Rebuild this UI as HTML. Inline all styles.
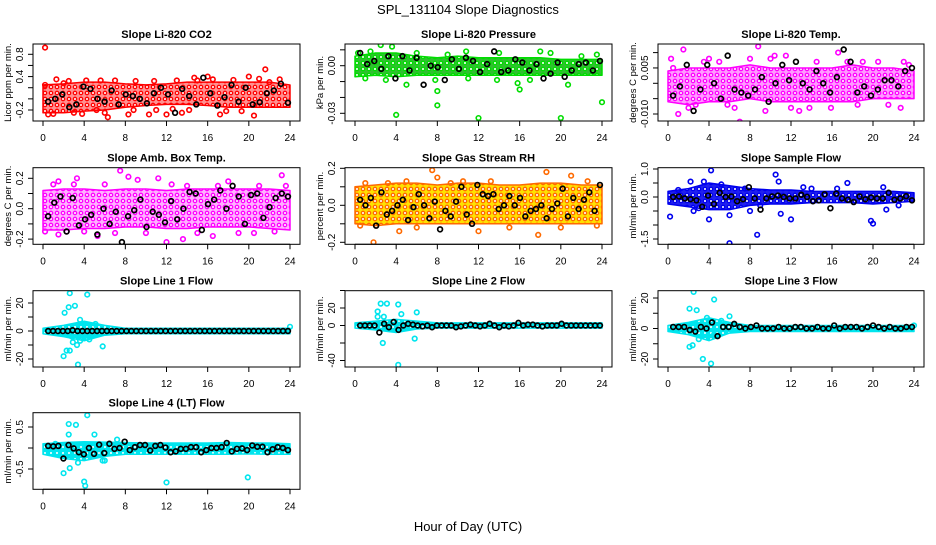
<!DOCTYPE html>
<html><head><meta charset="utf-8"><style>
body{margin:0;background:#fff}
svg text{font-family:"Liberation Sans",sans-serif}
</style></head><body>
<svg id="chart" width="936" height="540" viewBox="0 0 936 540" xmlns="http://www.w3.org/2000/svg">
<text x="468" y="14" text-anchor="middle" font-size="13">SPL_131104  Slope Diagnostics</text>
<text x="468" y="531" text-anchor="middle" font-size="13">Hour of Day (UTC)</text>
</svg>
<script>
const bandHours=[0,2,4,6,8,10,12,14,16,18,20,22,24];
const xTicks=[0,4,8,12,16,20,24];
// Panel 1 CO2
const co2Lo=[-0.25,-0.25,-0.22,-0.2,-0.15,-0.12,-0.1,-0.1,-0.12,-0.15,-0.15,-0.15,-0.15];
const co2Hi=[0.25,0.27,0.3,0.3,0.27,0.25,0.27,0.3,0.3,0.3,0.3,0.3,0.25];
const co2OutH=[0.2,0.2,1.3,6.3,8.3,10.3,12,13.5,16,16.5,20,21.6,17.2,20.5,3,5.2,14.7,22,1,2.5,4.2,7,9,11,13,15,18.5,19.3,23,6,0.5,2,3.8,5.6,8.8,10.8,12.6,14.2,17.8,21];
const co2OutV=[0.92,0.25,0.35,-0.33,-0.28,-0.28,-0.28,-0.25,0.4,0.35,0.4,0.53,-0.28,-0.3,-0.25,-0.2,0.38,0.3,-0.27,0.32,0.33,0.33,0.32,-0.2,0.33,0.33,0.34,-0.22,0.35,-0.25,-0.28,0.28,-0.27,0.33,-0.2,0.32,-0.18,-0.2,-0.22,0.36];
const co2Black=[-0.05,0.0,0.08,-0.15,-0.1,0.22,0.18,0.0,-0.05,0.15,-0.1,0.08,0.05,0.0,-0.08,0.1,0.2,0.08,-0.25,0.18,0.05,-0.1,0.38,0.1,-0.12,0.03,0.25,-0.05,0.2,-0.1,-0.06,0.1,0.15,0.27,-0.07];
// Panel 2 Pressure
const prLo=[-0.007,-0.006,-0.007,-0.006,-0.006,-0.006,-0.006,-0.006,-0.006,-0.006,-0.006,-0.006,-0.006];
const prHi=[0.006,0.008,0.008,0.006,0.005,0.006,0.005,0.005,0.005,0.005,0.004,0.004,0.004];
const prOutH=[4,8,8,12,16,20,20.7,24,5,13.8,2.5,3.6,15.8,0.3,1.5,7.8,10.8,18,1,3,6,9,11,14,17,19,22,23.5];
const prOutV=[-0.031,-0.016,-0.025,-0.033,-0.015,-0.033,-0.012,-0.023,-0.012,-0.009,0.013,0.012,-0.011,0.008,0.009,-0.009,0.009,0.009,-0.008,-0.009,0.008,0.007,-0.008,0.008,-0.009,0.008,0.006,0.007];
const prBlack=[0.008,0.001,0.003,-0.002,0.006,-0.008,0.006,-0.003,0.005,-0.012,0.0,-0.001,-0.009,0.004,-0.002,0.005,0.003,-0.004,0.001,0.009,-0.004,-0.003,0.004,0.002,-0.003,0.001,-0.008,-0.005,0.002,-0.007,-0.003,0.001,0.002,-0.003,0.003];
// Panel 3 Li-820 Temp
const tLo=[-0.006,-0.007,-0.006,-0.006,-0.005,-0.006,-0.006,-0.006,-0.006,-0.006,-0.005,-0.005,-0.005];
const tHi=[0.004,0.005,0.005,0.005,0.006,0.005,0.005,0.005,0.005,0.006,0.005,0.005,0.004];
const tOutH=[0.3,1.5,1,4,7,8.8,9.5,12.8,13.8,15.9,16.6,22.7,2.7,5.8,10.4,11.5,19,23,0.5,2,3.5,5,6.5,8,10,12,14.5,17.5,18.5,20.5,21.5,23.5];
const tOutV=[0.008,0.011,-0.010,0.008,-0.0125,0.012,-0.009,-0.009,-0.008,-0.008,0.010,-0.008,-0.007,-0.007,0.009,0.009,0.007,0.007,0.005,-0.008,0.007,0.007,-0.008,0.008,0.008,-0.008,0.007,0.007,-0.007,0.007,-0.007,0.006];
const tBlack=[-0.004,-0.001,0.006,-0.009,-0.002,0.006,0.0,-0.005,0.009,-0.002,-0.003,-0.004,-0.002,0.002,-0.006,0.0,0.006,0.001,0.007,0.0,-0.002,0.004,0.0,-0.003,0.002,0.011,0.007,-0.003,-0.001,-0.004,-0.002,0.001,0.001,-0.001,0.004,0.005];
// Panel 4 Amb box temp
const aLo=[-0.14,-0.14,-0.13,-0.13,-0.12,-0.12,-0.13,-0.13,-0.12,-0.12,-0.12,-0.13,-0.14];
const aHi=[0.12,0.13,0.13,0.12,0.13,0.13,0.12,0.13,0.13,0.13,0.13,0.13,0.12];
const aOutH=[7.5,8.3,23.2,1.5,3.3,11.2,12,13.6,5.3,15,16.5,20.5,1.5,18,9.2,0.2,23.6,2.3,1,4,6,7,10,12.5,14,17,19,21,22.5,3];
const aOutV=[0.25,0.21,0.22,0.18,0.2,0.2,-0.22,-0.2,-0.18,-0.16,-0.18,-0.16,-0.17,0.18,0.19,-0.15,0.15,-0.15,0.16,-0.15,0.16,-0.16,-0.16,0.16,0.15,0.15,-0.16,0.15,-0.15,0.16];
const aBlack=[-0.05,0.04,0.08,-0.15,0.07,-0.11,-0.07,-0.04,-0.17,0.0,-0.1,-0.02,-0.22,-0.05,-0.01,0.06,-0.12,-0.02,-0.04,-0.09,0.05,-0.07,0.0,0.11,0.1,-0.14,0.03,0.06,0.12,0.0,0.15,0.08,-0.1,0.09,0.1,-0.06,0.01,0.07,0.1,0.08];
// Panel 5 Gas stream RH
const rLo=[-0.1,-0.11,-0.1,-0.1,-0.1,-0.1,-0.1,-0.1,-0.1,-0.1,-0.1,-0.1,-0.1];
const rHi=[0.1,0.11,0.12,0.12,0.11,0.12,0.12,0.11,0.11,0.12,0.12,0.11,0.11];
const rOutH=[7.5,18.6,21,1.8,4.3,17.8,12,9.3,13.2,0.5,3.2,8,22.6,6,1,5,10.5,15,20,23.5];
const rOutV=[0.19,0.18,0.16,-0.2,-0.14,-0.16,-0.14,0.12,0.13,-0.11,0.12,0.15,0.13,-0.12,0.12,0.13,0.13,-0.12,-0.12,-0.11];
const rBlack=[0.03,0.0,0.04,-0.11,0.07,-0.05,-0.03,0.0,0.03,-0.08,-0.01,0.06,0.0,-0.07,0.02,-0.13,-0.03,-0.06,0.02,0.1,-0.05,-0.1,0.11,0.06,0.05,0.06,-0.02,0.0,0.05,0.0,0.04,-0.06,-0.03,-0.02,0.0,-0.07,-0.02,0.01,0.09,-0.06,0.04,-0.02,0.03,0.07,-0.03,0.11];
// Panel 6 Sample flow
const sLo=[-0.25,-0.35,-0.45,-0.45,-0.3,-0.25,-0.25,-0.2,-0.2,-0.2,-0.25,-0.2,-0.15];
const sHi=[0.2,0.3,0.5,0.4,0.3,0.25,0.25,0.2,0.2,0.2,0.2,0.2,0.15];
const sOutH=[0.2,4.2,6,8.7,10.5,10.8,12,11,19.8,20,17.5,4,6,2.5,13.2,21.3,8,3.5,2.2,3,5.2,7.5,9,14,16.5,21,22.5,1];
const sOutV=[-0.7,0.95,-1.65,-1.35,0.8,0.55,-0.8,-0.6,-0.85,-0.95,0.5,-0.8,-0.65,-0.5,0.35,-0.45,-0.5,0.55,0.55,-0.4,0.45,0.3,-0.3,0.3,0.3,0.35,-0.3,0.25];
const sBlack=[0.0,0.02,-0.05,-0.08,-0.12,-0.35,0.05,-0.25,0.15,0.0,0.02,-0.15,-0.08,0.35,-0.05,-0.45,-0.05,0.02,0.05,0.0,-0.05,-0.05,0.08,0.0,-0.15,-0.12,0.1,-0.4,0.12,-0.05,-0.1,-0.18,0.02,-0.08,-0.02,-0.05,-0.05,0.15,-0.1,-0.05,0.03,-0.12];
// Panel 7 Line 1 flow
const l1Lo=[-2,-4,-7,-3,-2,-2,-2,-2,-2,-2,-2,-2,-2];
const l1Hi=[2,4,7,4,2,2,2,2,2,2,2,2,2];
const l1OutH=[2.6,4.3,2.1,2.5,3.1,3.6,2,2.3,3.4,5.8,2.9,3.6,4.5,5.1,2.6,24,2.8,3.3];
const l1OutV=[27,26,13,17,18,8,-18,-14,-24,-11,-8,-7,-6,5,-14,3,-4,-10];
const l1Black=[0,0,0,0,0,0.5,0,0,0,0,0,0,0,0,0,0,0,0,0,0,0,0,0,0,0,0,0,0,0,0,0,0,0,0,0,0,0,0,0,0,0,0,0,0,0,0,0,0,0,0];
// Panel 8 Line 2 flow
const l2Lo=[-3,-5,-8,-4,-3,-3,-3,-3,-3,-3,-3,-3,-3];
const l2Hi=[3,5,7,5,3,3,3,3,3,3,3,3,3];
const l2OutH=[4.3,4.2,2.5,3.1,2.2,6,2.7,5.8,4.2,4.5,2.8,2.2];
const l2OutV=[44,24,25,25,16,15,-20,-15,-45,13,10,10];
const l2Black=[0,0,0,0,-8,2,-2,4,-5,0,2,1,0,-1,0,-2,0,0,0,0,-2,-1,0,1,0,-1,0,2,0,-2,0,-1,0,3,0,1,1,0,-1,0,0,0,2,0,0,0,0,0,0,0,0];
// Panel 9 Line 3 flow
const l3Lo=[-2,-4,-8,-3,-2,-2,-2,-2,-2,-2,-2,-2,-2];
const l3Hi=[2,4,7,4,2,2,2,2,2,2,2,2,2];
const l3OutH=[2.5,4.5,2.1,2.8,3.8,6,2.1,2.4,3.4,4.2,4.5,3,5.2,24];
const l3OutV=[24,19,13,12,7,8,-12,-11,-20,-23,-4,-7,5,2];
const l3Black=[1,1,1,-1,-2,1,0,4,-5,1,1,3,1,0,1,2,0,0,0,1,0,0,1,1,0,0,1,0,0,2,0,1,1,1,0,1,2,1,0,1,0,0,1,1];
// Panel 10 Line 4 flow
const l4Lo=[-0.15,-0.25,-0.3,-0.2,-0.15,-0.15,-0.15,-0.15,-0.15,-0.15,-0.14,-0.15,-0.15];
const l4Hi=[0.1,0.13,0.15,0.14,0.13,0.12,0.12,0.12,0.12,0.13,0.12,0.12,0.1];
const l4OutH=[4.3,2.5,3.2,2.5,5,2,2.6,4,4.1,12,19.9,3.4,5.8,6,1.2,7.2];
const l4OutV=[0.78,0.57,0.55,0.32,0.32,-0.6,-0.48,-0.8,-0.9,-0.82,-0.7,-0.35,-0.3,-0.3,0.1,0.2];
const l4Black=[0.05,0.04,0.05,-0.25,0.07,-0.01,-0.1,-0.15,0.0,-0.14,0.08,-0.12,0.1,-0.02,0.0,0.15,-0.05,0.02,0.07,0.07,-0.06,0.05,0.07,0.01,-0.1,-0.08,-0.02,-0.02,0.02,0.02,-0.1,-0.05,0.0,0.0,0.02,0.12,-0.08,-0.02,-0.01,-0.05,0.06,0.03,0.03,-0.1,-0.03,0.02,0.0,-0.05];

const NS='http://www.w3.org/2000/svg';
const svg=document.getElementById('chart');
function el(tag,attrs,parent){const e=document.createElementNS(NS,tag);for(const k in attrs)e.setAttribute(k,attrs[k]);(parent||svg).appendChild(e);return e;}
const defs=el('defs',{});

const panels=[
 {id:'co2',title:'Slope Li-820 CO2',ylab:'Licor ppm per min.',L:33,R:300,T:44,B:121,v0:-0.2,p0:110,v1:0.8,p1:54.3,ticks:[-0.2,0,0.2,0.4,0.6,0.8],labs:['-0.2','','','0.4','','0.8'],color:'#ff0000',bg:'#ff9090',lo:co2Lo,hi:co2Hi,oh:co2OutH,ov:co2OutV,blk:co2Black},
 {id:'pressure',title:'Slope Li-820 Pressure',ylab:'kPa per min.',L:345,R:612,T:44,B:121,v0:0,p0:65.7,v1:-0.03,p1:113.3,ticks:[0.01,0,-0.01,-0.02,-0.03],labs:['','0.00','','','-0.03'],color:'#00dd00',bg:'#30c030',lo:prLo,hi:prHi,oh:prOutH,ov:prOutV,blk:prBlack},
 {id:'li820-temp',title:'Slope Li-820 Temp.',ylab:'degrees C per min.',L:658,R:924,T:44,B:121,v0:0,p0:83.3,v1:-0.01,p1:114,ticks:[0.01,0.005,0,-0.005,-0.01],labs:['','0.005','','','-0.010'],color:'#ff00ff',bg:'#ff99ff',lo:tLo,hi:tHi,oh:tOutH,ov:tOutV,blk:tBlack},
 {id:'amb-box-temp',title:'Slope Amb. Box Temp.',ylab:'degrees C per min.',L:33,R:300,T:167.7,B:244.3,v0:0,p0:208.7,v1:0.2,p1:178.3,ticks:[-0.2,-0.1,0,0.1,0.2],labs:['-0.2','','0.0','','0.2'],color:'#ff00ff',bg:'#ffb0ff',lo:aLo,hi:aHi,oh:aOutH,ov:aOutV,blk:aBlack},
 {id:'gas-stream-rh',title:'Slope Gas Stream RH',ylab:'percent per min.',L:345,R:612,T:167.7,B:244.3,v0:0,p0:205.3,v1:0.2,p1:168.3,ticks:[-0.2,-0.1,0,0.1,0.2],labs:['-0.2','','0.0','','0.2'],color:'#ff6a00',bg:'#ffe000',lo:rLo,hi:rHi,oh:rOutH,ov:rOutV,blk:rBlack},
 {id:'sample-flow',title:'Slope Sample Flow',ylab:'ml/min per min.',L:658,R:924,T:167.7,B:244.3,v0:0,p0:197,v1:1,p1:169,ticks:[1,0.5,0,-0.5,-1,-1.5],labs:['1.0','','0.0','','','-1.5'],color:'#0000ee',bg:'#2020ee',lo:sLo,hi:sHi,oh:sOutH,ov:sOutV,blk:sBlack},
 {id:'line1-flow',title:'Slope Line 1 Flow',ylab:'ml/min per min.',L:33,R:300,T:290.7,B:367,v0:0,p0:331,v1:20,p1:303,ticks:[20,10,0,-10,-20],labs:['20','','0','','-20'],color:'#00e5ee',bg:'#00e5ee',lo:l1Lo,hi:l1Hi,oh:l1OutH,ov:l1OutV,blk:l1Black},
 {id:'line2-flow',title:'Slope Line 2 Flow',ylab:'ml/min per min.',L:345,R:612,T:290.7,B:367,v0:0,p0:325.5,v1:20,p1:308,ticks:[40,20,0,-20,-40],labs:['','20','0','','-40'],color:'#00e5ee',bg:'#00e5ee',lo:l2Lo,hi:l2Hi,oh:l2OutH,ov:l2OutV,blk:l2Black},
 {id:'line3-flow',title:'Slope Line 3 Flow',ylab:'ml/min per min.',L:658,R:924,T:290.7,B:367,v0:0,p0:328.5,v1:20,p1:298,ticks:[20,10,0,-10,-20],labs:['20','','0','','-20'],color:'#00e5ee',bg:'#00e5ee',lo:l3Lo,hi:l3Hi,oh:l3OutH,ov:l3OutV,blk:l3Black},
 {id:'line4-flow',title:'Slope Line 4 (LT) Flow',ylab:'ml/min per min.',L:33,R:300,T:412.7,B:489.3,v0:0,p0:448,v1:0.5,p1:427,ticks:[0.5,0,-0.5],labs:['0.5','','-0.5'],color:'#00e5ee',bg:'#00e5ee',lo:l4Lo,hi:l4Hi,oh:l4OutH,ov:l4OutV,blk:l4Black}
];

panels.forEach((p,pi)=>{
  const g=el('g',{});
  
  
  const xs=h=>p.L+10+h/24*(p.R-p.L-20);
  const ys=v=>p.p0+(v-p.v0)*(p.p1-p.p0)/(p.v1-p.v0);
  // texture pattern
  const pat=el('pattern',{id:'pat'+pi,width:6,height:6,patternUnits:'userSpaceOnUse'},defs);
  el('rect',{width:6,height:6,fill:p.bg},pat);
  el('circle',{cx:3,cy:3,r:1.7,fill:'#fff',stroke:p.color,'stroke-width':1.3},pat);
  const cp=el('clipPath',{id:'clip'+pi},g);
  el('rect',{x:p.L,y:p.T,width:p.R-p.L,height:p.B-p.T},cp);
  const data=el('g',{'clip-path':'url(#clip'+pi+')'},g);
  let pts=[];
  bandHours.forEach((h,i)=>pts.push(xs(h)+','+ys(p.hi[i])));
  for(let i=bandHours.length-1;i>=0;i--)pts.push(xs(bandHours[i])+','+ys(p.lo[i]));
  const band=el('polygon',{points:pts.join(' '),fill:'url(#pat'+pi+')',stroke:p.color,'stroke-width':1.5,'stroke-linejoin':'round'},data);
  
  
  p.oh.forEach((h,i)=>{
    const c=el('circle',{cx:xs(h),cy:ys(p.ov[i]),r:2.3,fill:'none',stroke:p.color,'stroke-width':1.6},data);
    
    
  });
  const n=p.blk.length;
  p.blk.forEach((v,i)=>{
    const h=0.5+i*(23.3/(n-1));
    const c=el('circle',{cx:xs(h),cy:ys(v),r:2.4,fill:'none',stroke:'#000','stroke-width':1.7},data);
    
    
  });
  const box=el('rect',{x:p.L,y:p.T,width:p.R-p.L,height:p.B-p.T,fill:'none',stroke:'#000','stroke-width':1},g);
  
  
  const t=el('text',{x:(p.L+p.R)/2,y:p.T-6,'text-anchor':'middle','font-size':11,'font-weight':'bold'},g);
  t.textContent=p.title;
  
  
  el('line',{x1:xs(0),x2:xs(24),y1:p.B,y2:p.B,stroke:'#000'},g);
  xTicks.forEach(h=>{
    el('line',{x1:xs(h),x2:xs(h),y1:p.B,y2:p.B+5,stroke:'#000'},g);
    const tl=el('text',{x:xs(h),y:p.B+20,'text-anchor':'middle','font-size':10},g);
    tl.textContent=h;
    
    
  });
  p.ticks.forEach((v,i)=>{
    const y=ys(v);
    el('line',{x1:p.L-5,x2:p.L,y1:y,y2:y,stroke:'#000'},g);
    if(p.labs[i]){
      const tl=el('text',{x:0,y:0,'text-anchor':'middle','font-size':10,transform:'translate('+(p.L-10)+','+y+') rotate(-90)'},g);
      tl.textContent=p.labs[i];
      
      
    }
  });
  const yl=el('text',{x:0,y:0,'text-anchor':'middle','font-size':9.5,transform:'translate('+(p.L-22)+','+((p.T+p.B)/2)+') rotate(-90)'},g);
  yl.textContent=p.ylab;
  
  
});
</script>
</body></html>
